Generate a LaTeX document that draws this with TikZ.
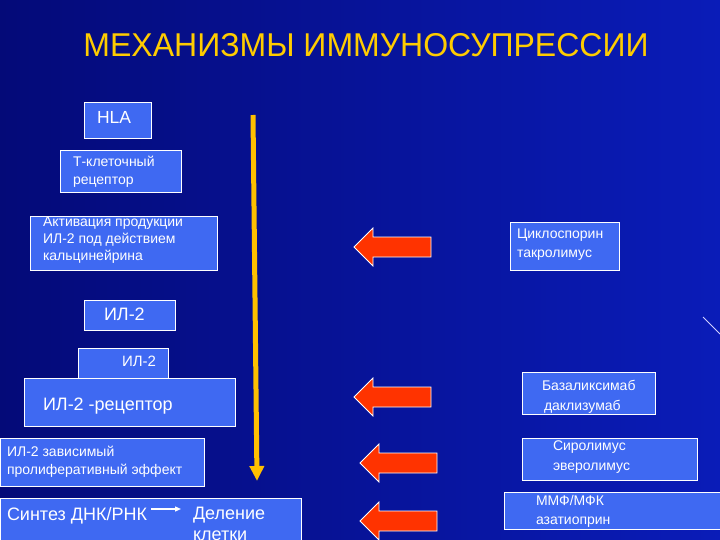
\documentclass[tikz,border=0pt]{standalone}
\usepackage{fontspec}
\usepackage{graphicx}
\setmainfont{Liberation Sans}
\usetikzlibrary{arrows.meta}
\definecolor{bgA}{HTML}{040A78}
\definecolor{bgB}{HTML}{0A1CB8}
\definecolor{boxblue}{HTML}{3F69F2}
\definecolor{gold}{HTML}{FFC000}
\definecolor{titley}{HTML}{FFCC00}
\definecolor{arrred}{HTML}{FF3300}
\begin{document}
\begin{tikzpicture}[x=1pt,y=-1pt,
  box/.style={draw=white, line width=0.9pt, fill=boxblue, inner sep=0pt, outer sep=0pt, anchor=north west},
  txt/.style={text=white, anchor=north west, inner sep=0pt, outer sep=0pt, align=left},
  redarrow/.style={fill=arrred, draw=white, line width=0.8pt, line join=miter},
  pics/leftarrow/.style={code={
    \path[redarrow] (0,0) -- (19,-19) -- (19,-10) -- (77,-10) -- (77,10) -- (19,10) -- (19,19) -- cycle;
  }}
]
\shade[left color=bgA, right color=bgB] (0,0) rectangle (720,540);
\useasboundingbox (0,0) rectangle (720,540);
\draw[line width=1pt, color=white!70!blue!60] (703,317) -- (720,334);

% title
\node[text=titley, font=\fontsize{33}{36}\selectfont, inner sep=0pt, anchor=north] (title) at (366,33) {\scalebox{0.97}[1]{МЕХАНИЗМЫ ИММУНОСУПРЕССИИ}};

% left boxes
\node[box, minimum width=67pt, minimum height=36pt] (hla) at (84,102) {};
\node[txt, font=\fontsize{17.5}{20}\selectfont] (hlat) at (97,111) {HLA};

\node[box, minimum width=121pt, minimum height=42pt] (tcr) at (60,150) {};
\node[txt, font=\fontsize{14}{18}\selectfont] (tcrt) at (73,156) {Т-клеточный\\рецептор};

\node[box, minimum width=187pt, minimum height=54pt] (act) at (30,216) {};
\node[txt, font=\fontsize{14}{17}\selectfont] (actt) at (43,217) {Активация продукции\\ИЛ-2 под действием\\кальцинейрина};

\node[box, minimum width=91pt, minimum height=30pt] (il2a) at (84,300) {};
\node[txt, font=\fontsize{18}{20}\selectfont] (il2at) at (104,308) {ИЛ-2};

\node[box, minimum width=90pt, minimum height=30pt] (il2b) at (78,348) {};
\node[txt, font=\fontsize{15}{18}\selectfont] (il2bt) at (122,356) {ИЛ-2};

\node[box, minimum width=211pt, minimum height=48pt] (il2r) at (24,378) {};
\node[txt, font=\fontsize{18}{20}\selectfont] (il2rt) at (43,398) {ИЛ-2 -рецептор};

\node[box, minimum width=204pt, minimum height=48pt] (prol) at (0,438) {};
\node[txt, font=\fontsize{14}{18}\selectfont] (prolt) at (7,446) {ИЛ-2 зависимый\\пролиферативный эффект};

\node[box, minimum width=301pt, minimum height=60pt] (synth) at (0,498) {};
\node[txt, font=\fontsize{18}{20}\selectfont] (syntht) at (7,507) {Синтез ДНК/РНК};
\node[txt, font=\fontsize{18}{21}\selectfont] (divt) at (193,507) {Деление\\клетки};
\coordinate (sa) at (151,509);
\coordinate (sb) at (181,509);
\draw[white, line width=1.3pt, -{Triangle[length=6pt,width=5pt]}] (sa) -- (sb);

% yellow process arrow
\coordinate (ytop) at (253,115);
\coordinate (ybot) at (257,481);
\draw[gold, line width=5pt, -{Triangle[length=15pt,width=14pt]}] (ytop) -- (ybot);

% right boxes
\node[box, minimum width=109pt, minimum height=48pt] (cyc) at (510,222) {};
\node[txt, font=\fontsize{14}{18.5}\selectfont] (cyct) at (517,229) {Циклоспорин\\такролимус};

\node[box, minimum width=133pt, minimum height=42pt] (bas) at (522,372) {};
\node[txt, font=\fontsize{14}{20}\selectfont] (bast) at (542,380) {Базаликсимаб\\\hspace*{2pt}даклизумаб};

\node[box, minimum width=175pt, minimum height=42pt] (sir) at (522,438) {};
\node[txt, font=\fontsize{14}{19.5}\selectfont] (sirt) at (553,441) {Сиролимус\\эверолимус};

\node[box, minimum width=218pt, minimum height=37pt] (mmf) at (504,492) {};
\node[txt, font=\fontsize{14}{19}\selectfont] (mmft) at (536,495) {ММФ/МФК\\азатиоприн};

% red arrows
\pic at (354,247) {leftarrow};
\pic at (354,397) {leftarrow};
\pic at (360,463) {leftarrow};
\pic at (360,521) {leftarrow};
\end{tikzpicture}
\end{document}
